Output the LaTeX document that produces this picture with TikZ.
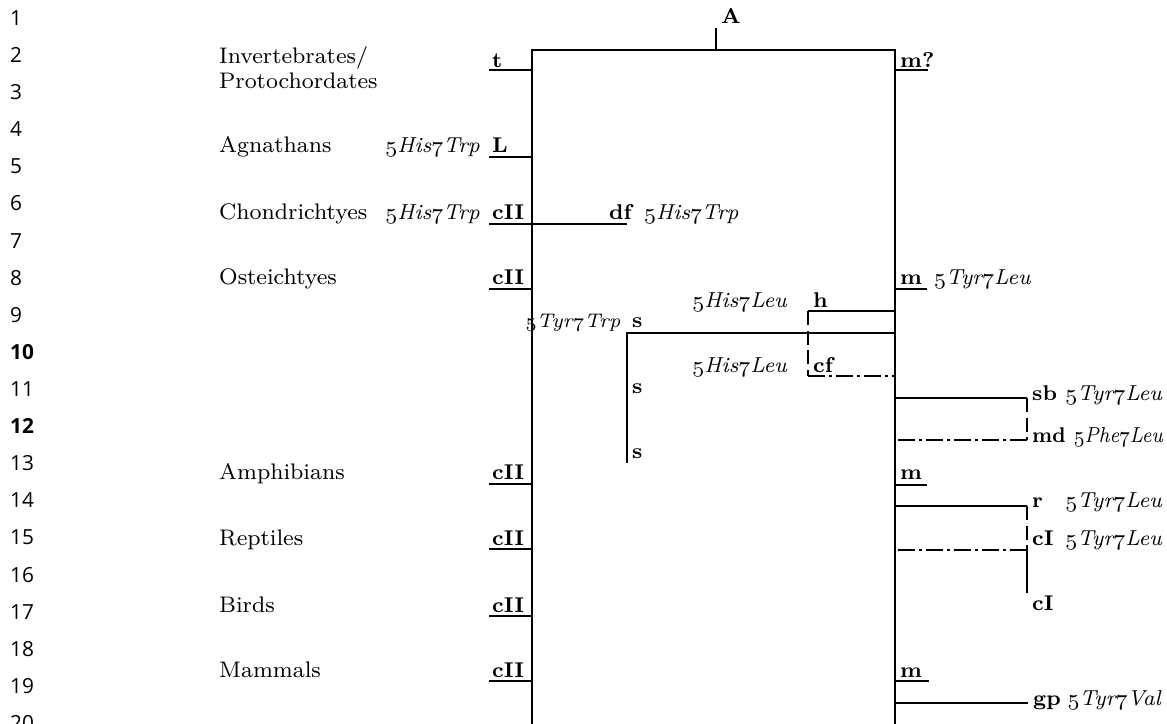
\documentclass[tikz,border=0pt]{standalone}
\usepackage{graphicx}
\usepackage{fontspec}
\newfontfamily\numfont{Open Sans}
\usetikzlibrary{positioning}

% old-style figures taken from the math italic font
\newcommand\osf[1]{{\usefont{OML}{cmm}{m}{it}#1}}
\newcommand\mut[4]{\osf{#1}#2\osf{#3}#4}

\begin{document}
\begin{tikzpicture}[x=0.125mm, y=-0.125mm, line width=0.85pt,
  every node/.style={inner sep=0pt, anchor=base west},
  taxon/.style={font=\fontsize{8}{9}\selectfont},
  tag/.style={font=\fontsize{7.6}{9}\selectfont\bfseries},
  sub/.style={font=\fontsize{7.7}{9}\selectfont\itshape},
  lnum/.style={font=\numfont\fontsize{7.4}{9}\selectfont},
  broken/.style={dash pattern=on 5pt off 2pt},
  dashdot/.style={dash pattern=on 6pt off 1.5pt on 1pt off 1.5pt}]
  \useasboundingbox (0,0) rectangle (1167,724);

  % line numbers
  \node[lnum] (n1)  at (9,25.5)  {1};
  \node[lnum] (n2)  at (9,62.6)  {2};
  \node[lnum] (n3)  at (9,99.7)  {3};
  \node[lnum] (n4)  at (9,136.8) {4};
  \node[lnum] (n5)  at (9,173.9) {5};
  \node[lnum] (n6)  at (9,211.0) {6};
  \node[lnum] (n7)  at (9,248.1) {7};
  \node[lnum] (n8)  at (9,285.2) {8};
  \node[lnum] (n9)  at (9,322.3) {9};
  \node[lnum] (n10) at (9,359.4) {\bfseries 10};
  \node[lnum] (n11) at (9,396.5) {11};
  \node[lnum] (n12) at (9,433.6) {\bfseries 12};
  \node[lnum] (n13) at (9,470.7) {13};
  \node[lnum] (n14) at (9,507.8) {14};
  \node[lnum] (n15) at (9,544.9) {15};
  \node[lnum] (n16) at (9,582.0) {16};
  \node[lnum] (n17) at (9,619.1) {17};
  \node[lnum] (n18) at (9,656.2) {18};
  \node[lnum] (n19) at (9,693.3) {19};
  \node[lnum] (n20) at (9,730.4) {20};

  % taxa
  \node[taxon] (inv) at (218,63)  {Invertebrates/};
  \node[taxon] (pro) at (218,88)  {Protochordates};
  \node[taxon] (agn) at (218,153) {Agnathans};
  \node[taxon] (cho) at (218,219) {Chondrichtyes};
  \node[taxon] (ost) at (218,285) {Osteichtyes};
  \node[taxon] (amp) at (218,480) {Amphibians};
  \node[taxon] (rep) at (218,545) {Reptiles};
  \node[taxon] (bir) at (218,612) {Birds};
  \node[taxon] (mam) at (218,677) {Mammals};

  % trunk
  \coordinate (lt) at (532,50);
  \coordinate (lb) at (532,724);
  \coordinate (rt) at (895,50);
  \coordinate (rb) at (895,724);
  \coordinate (root) at (716,28);
  \draw (lb) -- (lt) -- (rt) -- (rb);
  \draw (root) -- (root |- lt);
  \node[tag] (A) at (720,23) {A};

  % left branches
  \coordinate (tE)  at (489,70);
  \coordinate (LE)  at (489,157);
  \coordinate (chE) at (489,224);
  \coordinate (dfE) at (627,224);
  \coordinate (osE) at (489,289);
  \coordinate (amE) at (489,484);
  \coordinate (reE) at (489,549);
  \coordinate (biE) at (489,616);
  \coordinate (maE) at (489,681);
  \draw (tE) -- (tE -| lt);
  \draw (LE) -- (LE -| lt);
  \draw (chE) -- (dfE);
  \draw (osE) -- (osE -| lt);
  \draw (amE) -- (amE -| lt);
  \draw (reE) -- (reE -| lt);
  \draw (biE) -- (biE -| lt);
  \draw (maE) -- (maE -| lt);

  \node[tag] (t)   at (491,67)  {t};
  \node[tag] (L)   at (491,153) {L};
  \node[tag] (ch)  at (491,220) {cII};
  \node[tag] (df)  at (608,220) {df};
  \node[tag] (os)  at (491,285) {cII};
  \node[tag] (am)  at (491,480) {cII};
  \node[tag] (re)  at (491,545) {cII};
  \node[tag] (bi)  at (491,612) {cII};
  \node[tag] (ma)  at (491,677) {cII};
  \node[sub,anchor=base east] (Lmut)  at (481,153) {\mut{5}{His}{7}{Trp}};
  \node[sub,anchor=base east] (chmut) at (481,220) {\mut{5}{His}{7}{Trp}};
  \node[sub] (dfmut) at (643,220) {\mut{5}{His}{7}{Trp}};

  % inner branches
  \coordinate (hE)  at (808,311);
  \coordinate (cfE) at (808,376);
  \coordinate (sA)  at (627,333);
  \coordinate (sB)  at (627,463);
  \draw (hE -| rt) -- (hE);
  \draw[broken] (hE) -- (cfE);
  \draw[dashdot] (cfE) -- (cfE -| rt);
  \draw (sA -| rt) -- (sA) -- (sB);

  \node[tag] (h)  at (812,307) {h};
  \node[tag] (cf) at (812,372) {cf};
  \node[sub,anchor=base east] (hmut)  at (788,307) {\mut{5}{His}{7}{Leu}};
  \node[sub,anchor=base east] (cfmut) at (788,373) {\mut{5}{His}{7}{Leu}};
  \node[tag] (s1) at (631,328) {s};
  \node[tag] (s2) at (631,393) {s};
  \node[tag] (s3) at (631,458) {s};
  \node[sub,anchor=base east,font=\fontsize{7}{8}\selectfont\itshape] (smut) at (622,328) {\mut{5}{Tyr}{7}{Trp}};

  % right branches
  \coordinate (mqE) at (928,70);
  \coordinate (m1E) at (927,289);
  \coordinate (m2E) at (927,485);
  \coordinate (m3E) at (929,681);
  \coordinate (sbE) at (1027,398);
  \coordinate (mdE) at (1027,440);
  \coordinate (rE)  at (1027,506);
  \coordinate (cIE) at (1027,550);
  \coordinate (cIF) at (1027,593);
  \coordinate (gpE) at (1028,703);
  \draw (mqE -| rt) -- (mqE);
  \draw (m1E -| rt) -- (m1E);
  \draw (m2E -| rt) -- (m2E);
  \draw (m3E -| rt) -- (m3E);
  \draw (sbE -| rt) -- (sbE);
  \draw[broken] (sbE) -- (mdE);
  \draw[dashdot] (mdE) -- (mdE -| rt);
  \draw (rE -| rt) -- (rE);
  \draw[broken] (rE) -- (cIE);
  \draw[dashdot] (cIE) -- (cIE -| rt);
  \draw (cIE) -- (cIF);
  \draw (gpE -| rt) -- (gpE);

  \node[tag] (mq) at (899,68)  {m?};
  \node[tag] (m1) at (899,285) {m};
  \node[tag] (m2) at (899,480) {m};
  \node[tag] (m3) at (899,677) {m};
  \node[sub] (m1mut) at (933,285) {\mut{5}{Tyr}{7}{Leu}};
  \node[tag] (sb)  at (1031,401) {sb};
  \node[tag] (md)  at (1031,442) {\scalebox{0.92}[1]{md}};
  \node[tag] (r)   at (1031,507) {r};
  \node[tag] (cI1) at (1031,545) {cI};
  \node[tag] (cI2) at (1031,611) {cI};
  \node[tag] (gp)  at (1032,705) {gp};
  \node[sub,anchor=base east] (sbmut) at (1163,401) {\mut{5}{Tyr}{7}{Leu}};
  \node[sub,anchor=base east] (mdmut) at (1164,442) {\scalebox{0.9}[1]{\mut{5}{Phe}{7}{Leu}}};
  \node[sub,anchor=base east] (rmut)  at (1163,508) {\mut{5}{Tyr}{7}{Leu}};
  \node[sub,anchor=base east] (cImut) at (1163,545) {\mut{5}{Tyr}{7}{Leu}};
  \node[sub,anchor=base east] (gpmut) at (1162,705) {\mut{5}{Tyr}{7}{Val}};
\end{tikzpicture}
\end{document}
